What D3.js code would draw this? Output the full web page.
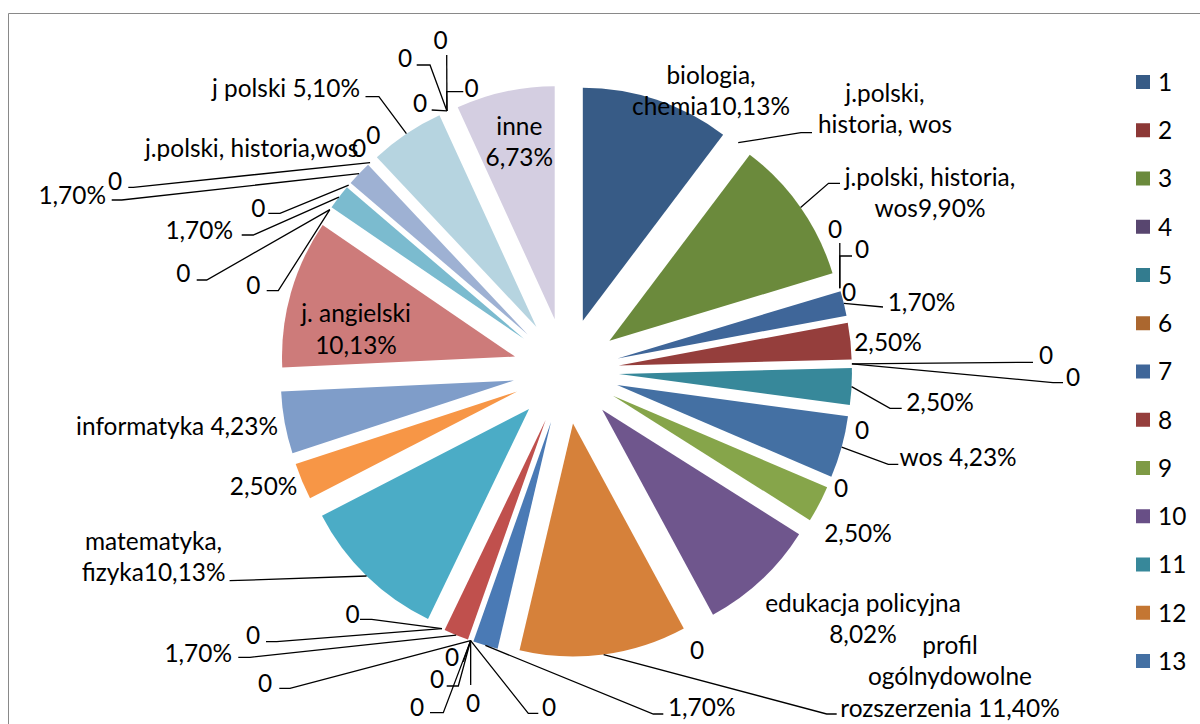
<!DOCTYPE html>
<html><head><meta charset="utf-8">
<script src="https://cdn.jsdelivr.net/npm/d3@7"></script>
<style>html,body{margin:0;padding:0;background:#fff;} svg{display:block;}</style>
</head><body>
<svg id="chart" width="1200" height="724"></svg>
<script>
// ---- data (slice values in %, clockwise from 12 o'clock) ----
const values = [10.13, 0, 9.90, 0, 0, 0, 1.70, 2.50, 0, 0, 2.50, 0, 4.23, 0, 2.50, 8.02, 0, 11.40, 1.70,
  0, 0, 0, 0, 0, 0, 1.70, 0, 0, 10.13, 2.50, 4.23, 10.13, 0, 0, 1.70, 0, 1.70, 0, 0, 0, 0, 5.10, 0, 0, 0, 0, 6.73];
const labels = [
  ["biologia,", "chemia10,13%"], ["j.polski,", "historia, wos"], ["j.polski, historia,", "wos9,90%"],
  ["0"], ["0"], ["0"], ["1,70%"], ["2,50%"], ["0"], ["0"], ["2,50%"], ["0"], ["wos 4,23%"], ["0"], ["2,50%"],
  ["edukacja policyjna", "8,02%"], ["0"], ["profil", "ogólnydowolne", "rozszerzenia 11,40%"], ["1,70%"],
  ["0"], ["0"], ["0"], ["0"], ["0"], ["0"], ["1,70%"], ["0"], ["0"], ["matematyka,", "fizyka10,13%"],
  ["2,50%"], ["informatyka 4,23%"], ["j. angielski", "10,13%"], ["0"], ["0"], ["1,70%"], ["0"], ["1,70%"],
  ["0"], ["j.polski, historia,wos"], ["0"], ["0"], ["j polski 5,10%"], ["0"], ["0"], ["0"], ["0"], ["inne", "6,73%"]
];
const legendLabels = ["1","2","3","4","5","6","7","8","9","10","11","12","13"];

// ---- styles ----
const sliceColors = ["#375B86","#8C3836","#6B8A3C","#58466F","#337C8F","#AB672F","#3F6699","#953E3C","#7E9A45","#684F86",
  "#37889A","#C47632","#4470A3","#8C3836","#86A54A","#6F568D","#37889A","#D6813A","#4A7AB5",
  "#C0504D","#9BBB59","#8064A2","#4BACC6","#F79646","#4F81BD","#C0504D","#9BBB59","#8064A2","#4BACC6","#F79646",
  "#7F9DC9","#CD7B7A","#B3C78B","#A38FBB","#7BBBCF","#F9B07A","#9EB1D3","#D9A09F","#C4D5A2","#BBACCF","#B6D4E0",
  "#B6D4E0","#FACAA6","#BFCBE3","#E3C1C0","#D5E1BE","#D4CEE1"];
const legendColors = ["#375B86","#8C3836","#6B8A3C","#58466F","#337C8F","#AB672F","#3F6699","#953E3C","#7E9A45",
  "#684F86","#37889A","#C47632","#4470A3"];

// ---- label layout (manual placement as in the source chart) ----
const labelLayout = [
  {x:711,y:75}, {x:885,y:93,lead:[[801,132.7],[812,132.7]]}, {x:930,y:177,lead:[[828.5,183.3],[840,183.3]]},
  {x:835,y:229,lead:[[839.8,243]]}, {x:862,y:249,lead:[[839.8,256],[852,256]]}, {x:849,y:292},
  {x:921.5,y:302,lead:[[883,307]]}, {x:888,y:342},
  {x:1046,y:355,lead:[[1033,362.3]]}, {x:1073,y:377,lead:[[1053,382.7],[1063,382.7]]},
  {x:940,y:402,lead:[[890,408.3],[901.7,408.3]]}, {x:862,y:430},
  {x:958,y:457,lead:[[888.3,464.3],[898.3,464.3]]}, {x:841,y:488}, {x:858,y:533},
  {x:863,y:603}, {x:697,y:650}, {x:950,y:645,lead:[[826.7,714],[836.7,714]]},
  {x:701.7,y:707,lead:[[653.3,714],[663.3,714]]},
  {x:549,y:707,lead:[[528.3,713.3],[538.3,713.3]]}, {x:473,y:703,lead:[[470.7,685]]},
  {x:452,y:657,lead:[[463.3,661.7]]}, {x:437,y:679,lead:[[458.3,686],[446.7,686]]},
  {x:417,y:707,lead:[[443.3,712.7],[430,712.7]]}, {x:265,y:683,lead:[[290,688.3],[279.3,688.3]]},
  {x:232,y:653,a:"end",lead:[[250,657.3],[238.3,657.3]]},
  {x:352.7,y:614,lead:[[371.7,619.3],[360,619.3]]}, {x:253,y:635,lead:[[276.7,641.7],[266,641.7]]},
  {x:153.6,y:541,lead:[[229.6,580.7]]}, {x:263.6,y:486.7}, {x:278,y:426.7,a:"end"}, {x:356,y:313.3},
  {x:183.3,y:273.3,lead:[[206.7,280],[196.7,280]]}, {x:253.3,y:285,lead:[[278.3,290.7],[266.7,290.7]]},
  {x:233,y:230,a:"end",lead:[[253.3,235],[241.7,235]]}, {x:258.3,y:208.3,lead:[[280,213.3],[268.3,213.3]]},
  {x:106,y:195,a:"end",lead:[[121.7,200],[111.7,200]]},
  {x:115,y:181.7,lead:[[133.3,187.3],[128.3,187.3]]}, {x:145,y:148.3,a:"start"}, {x:359,y:148.3}, {x:373.3,y:135},
  {x:360,y:88.3,a:"end",lead:[[378.9,96.7],[365.5,96.7]]},
  {x:440.7,y:40.7,lead:[[446.7,55]]}, {x:405,y:58.3,lead:[[430,65],[416.7,65]]},
  {x:471.7,y:88.3,lead:[[446.7,91.7],[463.3,91.7]]}, {x:420,y:103.3,lead:[[431.7,110]]},
  {x:519.3,y:126}
];

const W = 1200, H = 724;
const cx = 566, cy = 371, R = 233, EXPLODE = 53;
const FONT = "Lato, 'Open Sans', sans-serif";
const svg = d3.select("#chart");

// font size calibrated so text width matches the source (Calibri-like metrics)
const probe = svg.append("text").attr("font-family", FONT).attr("font-size", 100).text("informatyka 4,23%");
const fs = 100 * 202 / probe.node().getComputedTextLength();
probe.remove();
const lh = 31.7;

// chart border
svg.append("path").attr("d", `M8.5,${H} V13.5 H${W}`).attr("fill", "none").attr("stroke", "#898989").attr("stroke-width", 1);

const pie = d3.pie().sort(null).value(d => d).startAngle(0).endAngle(2 * Math.PI);
const arcs = pie(values);
const arc = d3.arc().innerRadius(0).outerRadius(R);
const dir = a => [Math.sin(a), -Math.cos(a)];

const g = svg.append("g").attr("transform", `translate(${cx},${cy})`);
g.selectAll("path.slice").data(arcs.filter(d => d.value > 0)).join("path")
  .attr("class", "slice")
  .attr("d", arc)
  .attr("fill", d => sliceColors[d.index])
  .attr("transform", d => {
    const m = (d.startAngle + d.endAngle) / 2; const v = dir(m);
    return `translate(${v[0] * EXPLODE},${v[1] * EXPLODE})`;
  });

// leader lines
const line = d3.line();
arcs.forEach((d, i) => {
  const L = labelLayout[i];
  if (!L.lead) return;
  const m = (d.startAngle + d.endAngle) / 2; const v = dir(m);
  const start = [cx + v[0] * (R + EXPLODE), cy + v[1] * (R + EXPLODE)];
  svg.append("path").attr("d", line([start, ...L.lead]))
    .attr("fill", "none").attr("stroke", "#000").attr("stroke-width", 1.3);
});

// data labels
arcs.forEach((d, i) => {
  const L = labelLayout[i];
  const t = svg.append("text").attr("font-family", FONT).attr("font-size", fs).attr("fill", "#000")
    .attr("text-anchor", L.a || "middle");
  labels[i].forEach((s, k) => {
    t.append("tspan").attr("x", L.x).attr("y", L.y + k * lh + fs * 0.36).text(s);
  });
});

// legend
const ly = d3.scaleLinear().domain([0, legendLabels.length - 1]).range([82, 661]);
const lg = svg.append("g");
legendLabels.forEach((s, i) => {
  lg.append("rect").attr("x", 1136).attr("y", ly(i) - 7).attr("width", 14).attr("height", 14).attr("fill", legendColors[i]);
  lg.append("text").attr("x", 1158).attr("y", ly(i) + fs * 0.36).attr("font-family", FONT).attr("font-size", fs)
    .attr("fill", "#000").text(s);
});
</script>
</body></html>
